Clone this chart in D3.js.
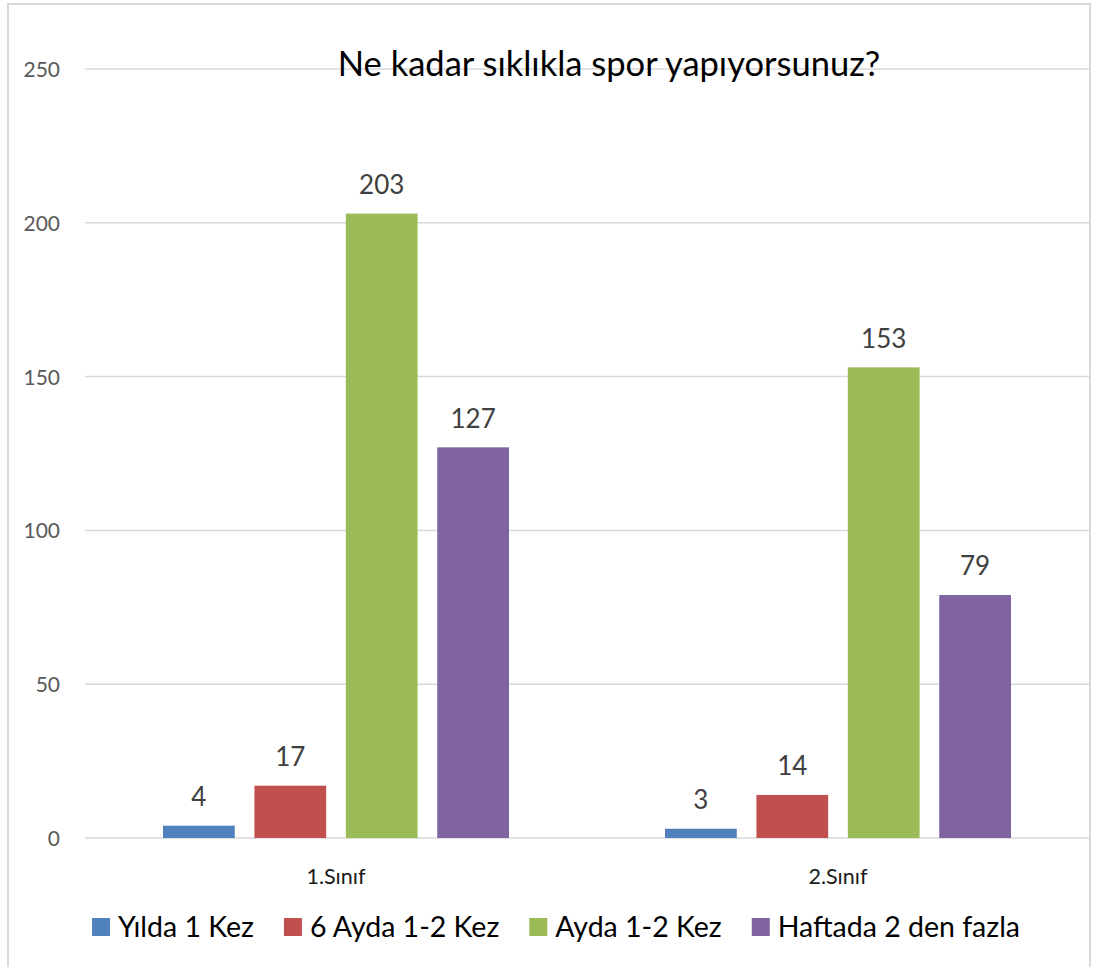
<!DOCTYPE html>
<html>
<head>
<meta charset="utf-8">
<script src="https://cdnjs.cloudflare.com/ajax/libs/d3/7.8.5/d3.min.js"></script>
<style>
    body { margin: 0; background: #fff; }
    svg text { font-family: Lato, "Open Sans", sans-serif; }
</style>
</head>
<body>
<div id="chart-area"></div>
<script>
var chartTitle = "Ne kadar sıklıkla spor yapıyorsunuz?";
var categories = ["1.Sınıf", "2.Sınıf"];
var seriesNames = ["Yılda 1 Kez", "6 Ayda 1-2 Kez", "Ayda 1-2 Kez", "Haftada 2 den fazla"];
var seriesColors = ["#4f81bd", "#c0504d", "#9bbb59", "#8064a2"];
// one array per class, in the same order as seriesNames
var sinif1 = [4, 17, 203, 127];
var sinif2 = [3, 14, 153, 79];
var yTicks = [0, 50, 100, 150, 200, 250];

var data = categories.map(function(c, i) {
    var vals = i === 0 ? sinif1 : sinif2;
    return {
        category: c,
        values: seriesNames.map(function(s, j) { return { series: s, value: vals[j] }; })
    };
});

var width = 1096, height = 967;
var plot = { left: 85, right: 1089, top: 69, bottom: 838 };

var svg = d3.select("#chart-area").append("svg")
    .attr("width", width)
    .attr("height", height);

svg.append("rect")
    .attr("x", 8).attr("y", 4)
    .attr("width", 1082).attr("height", 1000)
    .attr("fill", "#fff")
    .attr("stroke", "#d9d9d9")
    .attr("stroke-width", 2);

var x0 = d3.scaleBand()
    .domain(categories)
    .range([plot.left, plot.right])
    .padding(0);

var x1 = d3.scaleBand()
    .domain(seriesNames)
    .range([78, x0.bandwidth() - 78])
    .paddingInner(0.215)
    .paddingOuter(0);

var y = d3.scaleLinear()
    .domain([0, 250])
    .range([plot.bottom, plot.top]);

var color = d3.scaleOrdinal().domain(seriesNames).range(seriesColors);

// gridlines
svg.append("g")
    .selectAll("line")
    .data(yTicks)
    .enter().append("line")
    .attr("x1", plot.left).attr("x2", plot.right)
    .attr("y1", function(d) { return y(d); })
    .attr("y2", function(d) { return y(d); })
    .attr("stroke", "#d9d9d9")
    .attr("stroke-width", 1.5);

// y axis labels
var yAxis = d3.axisLeft(y).tickValues(yTicks).tickSize(0).tickPadding(0);
var yAxisG = svg.append("g")
    .attr("transform", "translate(60,0)")
    .call(yAxis);
yAxisG.select(".domain").remove();
yAxisG.selectAll("text")
    .attr("font-size", 21)
    .attr("fill", "#595959")
    .attr("dy", "0.36em");

// x axis labels
var xAxis = d3.axisBottom(x0).tickSize(0).tickPadding(0);
var xAxisG = svg.append("g")
    .attr("transform", "translate(0,884)")
    .call(xAxis);
xAxisG.select(".domain").remove();
xAxisG.selectAll("text")
    .attr("font-size", 21.5)
    .attr("fill", "#1a1a1a")
    .attr("dy", 0);

// title
svg.append("text")
    .attr("x", 609)
    .attr("y", 76)
    .attr("text-anchor", "middle")
    .attr("font-size", 34.5)
    .attr("fill", "#000")
    .text(chartTitle);

// bars
var groups = svg.selectAll(".group")
    .data(data)
    .enter().append("g")
    .attr("class", "group")
    .attr("transform", function(d) { return "translate(" + x0(d.category) + ",0)"; });

groups.selectAll("rect")
    .data(function(d) { return d.values; })
    .enter().append("rect")
    .attr("x", function(d) { return x1(d.series); })
    .attr("y", function(d) { return y(d.value); })
    .attr("width", x1.bandwidth())
    .attr("height", function(d) { return y(0) - y(d.value); })
    .attr("fill", function(d) { return color(d.series); });

groups.selectAll(".value-label")
    .data(function(d) { return d.values; })
    .enter().append("text")
    .attr("class", "value-label")
    .attr("x", function(d) { return x1(d.series) + x1.bandwidth() / 2; })
    .attr("y", function(d) { return y(d.value) - 19.5; })
    .attr("text-anchor", "middle")
    .attr("font-size", 26)
    .attr("fill", "#404040")
    .text(function(d) { return d.value; });

// legend
var legend = svg.append("g").attr("class", "legend");
var lx = 92;
seriesNames.forEach(function(s) {
    var item = legend.append("g").attr("transform", "translate(" + lx + ",0)");
    item.append("rect")
        .attr("x", 0).attr("y", 918)
        .attr("width", 18).attr("height", 18)
        .attr("fill", color(s));
    var t = item.append("text")
        .attr("x", 26).attr("y", 937)
        .attr("font-size", 28.5)
        .attr("fill", "#000")
        .text(s);
    lx += 26 + t.node().getComputedTextLength() + 30;
});
</script>
</body>
</html>
